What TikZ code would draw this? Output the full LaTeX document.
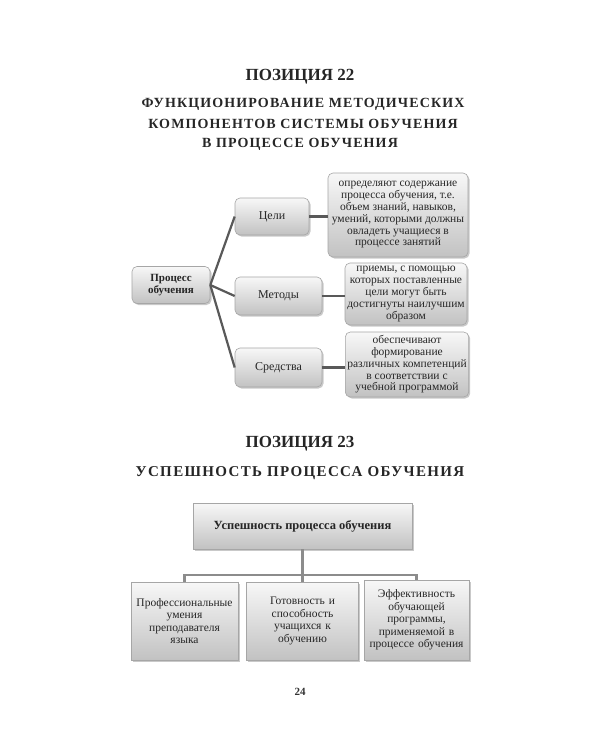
\documentclass[tikz,border=0pt]{standalone}
\usepackage{fontspec}
\setmainfont{Liberation Serif}
\usetikzlibrary{shadows}
\begin{document}
\begin{tikzpicture}[x=1pt,y=-1pt,
  gbox/.style={draw=black!35, line width=0.6pt, top color=black!3, bottom color=black!24,
    drop shadow={shadow xshift=1.5pt, shadow yshift=-1.5pt, opacity=0.35, fill=black!60},
    align=center, inner sep=2pt, text=black!85},
  rbox/.style={gbox, rounded corners=5pt},
  link/.style={draw=black!65, line width=2.2pt},
  link2/.style={draw=black!45, line width=2.4pt},
  ttl/.style={font=\bfseries\fontsize{17}{20}\selectfont, text=black!85},
  sub/.style={font=\bfseries\addfontfeatures{LetterSpace=8}\fontsize{14}{20}\selectfont, text=black!85},
  desc/.style={rbox, font=\fontsize{11.5}{11.8}\selectfont},
  mid/.style={rbox, font=\fontsize{12}{13}\selectfont}
]
\useasboundingbox (0,0) rectangle (600,750);
\fill[white] (0,0) rectangle (600,750);

% Section 1 titles
\node[ttl] (t1) at (300,77) {ПОЗИЦИЯ 22};
\node[sub] (s1a) at (303,104) {ФУНКЦИОНИРОВАНИЕ МЕТОДИЧЕСКИХ};
\node[sub] (s1b) at (303,124) {КОМПОНЕНТОВ СИСТЕМЫ ОБУЧЕНИЯ};
\node[sub] (s1c) at (300,144) {В ПРОЦЕССЕ ОБУЧЕНИЯ};

% Section 1 diagram
\node[rbox, minimum width=78pt, minimum height=37pt, font=\bfseries\fontsize{11}{12.5}\selectfont] (proc) at (171,285) {Процесс\\обучения};
\node[mid, minimum width=74pt, minimum height=37pt] (cel) at (272,216.5) {Цели};
\node[mid, minimum width=87pt, minimum height=38pt] (met) at (278.5,296) {Методы};
\node[mid, minimum width=87pt, minimum height=39pt] (sred) at (278.5,367.5) {Средства};

\node[desc, minimum width=140pt, minimum height=84pt] (d1) at (398,215)
 {определяют содержание\\процесса обучения, т.е.\\объем знаний, навыков,\\умений, которыми должны\\овладеть учащиеся в\\процессе занятий};
\node[desc, minimum width=122pt, minimum height=62pt] (d2) at (406,294)
 {приемы, с помощью\\которых поставленные\\цели могут быть\\достигнуты наилучшим\\образом};
\node[desc, minimum width=120pt, minimum height=65pt] (d3) at (407,364.5)
 {обеспечивают\\формирование\\различных компетенций\\в соответствии с\\учебной программой};

\draw[link] (proc.east) -- (cel.west);
\draw[link] (proc.east) -- (met.west);
\draw[link] (proc.east) -- (sred.west);
\draw[link] (cel.east) -- (cel.east -| d1.west);
\draw[link] (met.east) -- (met.east -| d2.west);
\draw[link] (sred.east) -- (sred.east -| d3.west);

% Section 2 titles
\node[ttl] (t2) at (300,444) {ПОЗИЦИЯ 23};
\node[sub, font=\bfseries\addfontfeatures{LetterSpace=9}\fontsize{15}{20}\selectfont] (s2) at (300,473) {УСПЕШНОСТЬ ПРОЦЕССА ОБУЧЕНИЯ};

% Section 2 diagram
\node[gbox, minimum width=219pt, minimum height=46pt, font=\bfseries\fontsize{12.5}{14}\selectfont] (top) at (302.5,526) {Успешность процесса обучения};
\node[gbox, minimum width=105pt, minimum height=78pt, text width=103pt, font=\fontsize{11.5}{12.5}\selectfont] (b1) at (184.5,621) {Профессиональные\\умения\\преподавателя\\языка};
\node[gbox, minimum width=111pt, minimum height=78pt, text width=108pt, font=\fontsize{11.5}{12.5}\selectfont] (b2) at (302.5,621) {Готовность и\\способность\\учащихся к\\обучению};
\node[gbox, minimum width=103pt, minimum height=80pt, text width=101pt, font=\fontsize{11.5}{12.5}\selectfont] (b3) at (416.5,620) {Эффективность\\обучающей\\программы,\\применяемой в\\процессе обучения};
\coordinate (j) at (302.5,575);
\draw[link2] (top.south) -- (b2.north);
\draw[link2] (b1.north) -- (b1.north |- j) -- (b3.north |- j) -- (b3.north);

\node[font=\bfseries\fontsize{11}{13}\selectfont, text=black!80] (pg) at (300,692) {24};
\end{tikzpicture}
\end{document}
